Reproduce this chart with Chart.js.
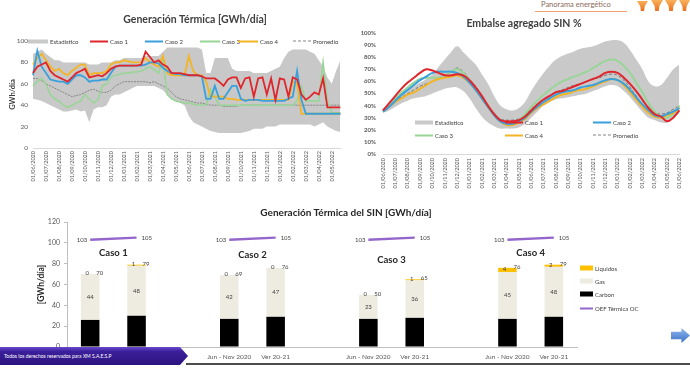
<!DOCTYPE html>
<html lang="es">
<head>
<meta charset="utf-8">
<title>Generación Térmica y Embalse SIN</title>
<script src="https://cdn.jsdelivr.net/npm/chart.js@4.4.1/dist/chart.umd.min.js"></script>
<style>
  html, body { margin:0; padding:0; background:#fff; }
  body { position:relative; width:690px; height:370px; overflow:hidden; font-family:Lato, "Open Sans", sans-serif; color:#404040; }
  canvas { position:absolute; }
  .t { position:absolute; white-space:nowrap; transform:translate(-50%,-50%); font-weight:bold; z-index:2; }
  .lg { position:absolute; display:flex; align-items:center; font-size:6px; line-height:7px; white-space:nowrap; transform:translateY(-50%); color:#404040; z-index:2; }
  .lg span { display:inline-block; margin-right:2px; }
  .banner { position:absolute; left:0; top:347px; width:188px; height:18px; z-index:3;
    background:linear-gradient(#6a4ad0 0, #3b1f9a 25%, #2c137f 100%);
    clip-path:polygon(0 0, 180px 0, 188px 50%, 180px 100%, 0 100%);
    color:#fff; font-size:5px; line-height:18px; padding-left:4px; box-sizing:border-box; }
</style>
</head>
<body>

<!-- encabezado -->
<div style="position:absolute;left:541px;top:0;font-size:7.5px;color:#8a6a58;">Panorama energético</div>
<div style="position:absolute;left:535px;top:11px;width:92px;height:1px;background:#f2a36e;"></div>
<div id="logo" style="position:absolute;left:637px;top:0;width:53px;height:11px;"></div>

<div class="t" style="left:195px;top:19px;font-size:10.5px;">Generación Térmica [GWh/día]</div>
<div class="t" style="left:524px;top:23px;font-size:10.5px;">Embalse agregado SIN %</div>
<div class="t" style="left:346px;top:212px;font-size:10px;color:#262626;">Generación Térmica del SIN [GWh/día]</div>

<canvas id="termica" width="350" height="195" style="left:0;top:0"></canvas>
<canvas id="embalse" width="345" height="200" style="left:345px;top:0"></canvas>
<canvas id="sin" width="690" height="170" style="left:0;top:200px"></canvas>

<div class="banner">Todos los derechos reservados para XM S.A.E.S.P</div>
<div style="position:absolute;left:186px;top:363px;width:504px;height:2px;background:#4d4d4d;"></div>
<div style="position:absolute;left:671px;top:328px;width:19px;height:15px;background:linear-gradient(#8fb6ee,#3f72c8);clip-path:polygon(0 25%,55% 25%,55% 0,100% 50%,55% 100%,55% 75%,0 75%);"></div>

<script>
// ---------- Generación térmica diaria (GWh/día), un punto cada 10 días ----------
const MESES_TERMICA = ['01/06/2020','01/07/2020','01/08/2020','01/09/2020','01/10/2020','01/11/2020',
  '01/12/2020','01/01/2021','01/02/2021','01/03/2021','01/04/2021','01/05/2021','01/06/2021',
  '01/07/2021','01/08/2021','01/09/2021','01/10/2021','01/11/2021','01/12/2021','01/01/2022',
  '01/02/2022','01/03/2022','01/04/2022','01/05/2022'];

const termEstMax = [88,90,92,88,85,82,82,80,80,80,80,80, 80,78,78,78,80,80,80,82,82,84,84,84,
  84,84,86,86,86,86,90,94,94,94,94,94, 94,94,94,92,70,70,84,84,84,84,74,72,
  72,72,72,70,70,70,70,72,74,76,84,90, 92,92,92,92,90,88,82,76,66,60,72,82];
const termEstMin = [46,45,44,42,40,38,36,34,34,35,36,34, 35,24,36,38,38,40,48,50,50,52,54,56,
  58,58,58,58,58,56,54,50,46,44,42,40, 30,24,22,20,18,16,15,14,14,14,14,14,
  14,15,16,18,18,18,20,20,20,22,22,22, 22,22,22,22,22,20,22,24,20,18,16,15];
const termCaso1 = [70,76,78,80,72,68,66,64,62,66,70,72, 74,66,67,68,67,70,74,76,77,77,77,77,
  77,78,90,85,80,82,78,76,70,70,70,69, 68,68,68,67,65,65,65,62,58,64,66,66,
  56,65,66,48,65,66,50,65,45,65,64,48, 66,64,50,45,48,52,50,65,38,38,38,38];
const termCaso2 = [68,91,76,70,64,63,62,62,60,64,68,68, 66,62,63,63,64,64,70,76,77,77,77,77,
  77,77,78,80,80,79,75,72,70,69,69,68, 68,68,68,67,46,46,58,46,46,52,58,58,
  46,44,45,45,45,44,44,44,44,44,44,46, 48,72,45,32,32,32,32,32,32,32,32,32];
const termCaso3 = [58,62,65,60,50,46,44,40,38,40,42,44, 50,46,42,45,58,60,66,68,69,70,70,71,
  71,72,74,76,73,70,82,50,46,44,43,42, 42,41,40,40,40,55,48,40,40,40,40,40,
  40,40,40,40,40,40,40,40,40,40,40,40, 40,44,58,44,44,44,44,80,44,33,33,33];
const termCaso4 = [78,84,88,82,76,72,74,70,68,72,75,78, 78,68,70,70,70,72,78,80,80,82,81,80,
  80,80,84,80,78,76,86,70,68,68,68,68, 86,72,68,68,62,48,48,48,48,46,46,45,
  45,45,45,45,45,45,45,45,45,45,45,45, 62,60,32,32,32,32,32,32,32,32,32,32];
const termPromedio = [65,65,63,60,58,56,54,52,50,48,49,50, 52,54,55,53,52,52,54,58,60,62,62,62,
  62,62,62,61,62,60,58,56,52,48,46,45, 44,43,42,42,41,40,40,40,39,39,39,39,
  40,40,40,40,40,40,40,40,40,40,40,40, 40,40,40,40,40,40,40,40,40,40,40,40];

// ---------- Embalse agregado SIN (%), dos puntos por mes ----------
const MESES_EMBALSE = ['01/06/2020','01/07/2020','01/08/2020','01/09/2020','01/10/2020','01/11/2020',
  '01/12/2020','01/01/2021','01/02/2021','01/03/2021','01/04/2021','01/05/2021','01/06/2021',
  '01/07/2021','01/08/2021','01/09/2021','01/10/2021','01/11/2021','01/12/2021','01/01/2022',
  '01/02/2022','01/03/2022','01/04/2022','01/05/2022','01/06/2022'];

const embEstMax = [37,42,47,50,53,56,59,62,66,72, 78,84,89,84,79,74,66,58,48,40,
  37,36,38,43,52,60,67,73,78,81, 83,85,87,88,89,91,93,94,94,92, 86,78,70,60,56,57,63,70,74];
const embEstMin = [34,36,39,42,44,46,47,48,50,52, 54,55,55,52,46,38,31,26,23,21,
  21,21,22,25,30,35,40,43,45,46, 47,48,49,50,52,54,56,57,56,52, 47,41,35,30,28,26,26,30,34];
const embCaso1 = [36,42,48,54,59,63,67,70,69,67, 65,65,66,65,61,55,48,40,33,28,
  27,27,28,31,36,41,45,48,51,52, 54,56,58,60,62,64,67,68,67,63, 58,52,45,38,33,31,27,30,36];
const embCaso2 = [35,39,44,49,53,57,61,64,67,68, 68,68,67,64,59,53,46,39,32,27,
  25,25,27,30,35,39,43,46,49,51, 52,53,55,56,57,59,61,62,61,58, 53,47,41,36,32,31,33,35,38];
const embCaso3 = [36,41,46,51,55,59,62,63,63,63, 64,68,70,67,61,54,47,40,33,28,
  25,26,28,33,39,44,49,53,57,60, 62,64,66,68,71,74,77,78,77,73, 67,59,51,42,35,31,30,33,40];
const embCaso4 = [35,39,43,46,49,51,54,57,60,62, 63,64,65,63,59,53,46,39,32,27,
  24,24,26,29,34,38,41,44,47,49, 50,52,53,54,56,58,60,62,61,57, 51,45,39,34,31,30,32,34,38];
const embPromedio = [35,40,44,47,50,53,56,58,60,63, 65,68,71,68,62,56,48,40,34,29,
  28,28,29,32,37,41,45,48,51,53, 55,57,58,60,62,63,65,66,65,61, 55,48,41,36,34,33,34,37,40];

// ---------- Generación térmica del SIN por caso (GWh/día) ----------
const CASOS = ['Caso 1','Caso 2','Caso 3','Caso 4'];
const PERIODOS = ['Jun - Nov 2020','Ver 20-21','','Jun - Nov 2020','Ver 20-21','',
  'Jun - Nov 2020','Ver 20-21','','Jun - Nov 2020','Ver 20-21'];
const carbon   = [26, 30, null, 27, 29, null, 27, 28, null, 27, 29];
const gas      = [44, 48, null, 42, 47, null, 23, 36, null, 45, 48];
const liquidos = [ 0,  1, null,  0,  0, null,  0,  1, null,  4,  2];
const oefTermica = [103, 105, null, 103, 105, null, 103, 105, null, 103, 105];

const RED = '#e0262d', BLUE = '#38a0dc', GREEN = '#98d596', GOLD = '#f3b426';
const BAND = '#c9c9c9', PROM = '#858585', PURPLE = '#9466cc';

Chart.defaults.font.family = 'Lato, "Open Sans", sans-serif';
Chart.defaults.color = '#595959';
Chart.defaults.animation = false;

// leyendas en HTML sobre los gráficos
function legend(items) {
  items.forEach(([x, y, text, swatch]) => {
    const d = document.createElement('div');
    d.className = 'lg';
    d.style.left = x + 'px'; d.style.top = y + 'px';
    d.innerHTML = `<span style="${swatch}"></span>${text}`;
    document.body.appendChild(d);
  });
}
const sw = (w, css) => `width:${w}px;${css}`;

legend([
  [28, 41, 'Estadístico', sw(20, 'border-top:4px solid ' + BAND)],
  [90, 41, 'Caso 1', sw(18, 'border-top:2px solid ' + RED)],
  [145, 41, 'Caso 2', sw(18, 'border-top:2px solid ' + BLUE)],
  [200, 41, 'Caso 3', sw(20, 'border-top:2px solid ' + GREEN)],
  [238, 41, 'Caso 4', sw(20, 'border-top:2px solid ' + GOLD)],
  [293, 41, 'Promedio', sw(18, 'border-top:1px dashed ' + PROM)],
  [415, 122, 'Estadístico', sw(18, 'border-top:4px solid ' + BAND)],
  [505, 122, 'Caso 1', sw(18, 'border-top:2px solid ' + RED)],
  [593, 122, 'Caso 2', sw(18, 'border-top:2px solid ' + BLUE)],
  [415, 135, 'Caso 3', sw(18, 'border-top:2px solid ' + GREEN)],
  [505, 135, 'Caso 4', sw(18, 'border-top:2px solid ' + GOLD)],
  [593, 135, 'Promedio', sw(18, 'border-top:1px dashed ' + PROM)],
  [580, 268, 'Liquidos', sw(13, 'height:5px;background:#ffc000')],
  [580, 281, 'Gas', sw(13, 'height:5px;background:#eeece1')],
  [580, 294, 'Carbon', sw(13, 'height:5px;background:#000')],
  [580, 308, 'OEF Térmica OC', sw(13, 'border-top:2px solid ' + PURPLE)],
]);

// logo naranja del encabezado
['0,1,11,10', '14,0,12,11', '28,0,12,11', '42,0,11,11'].forEach((r) => {
  const [l, t, w, h] = r.split(',');
  const s = document.createElement('div');
  s.style.cssText = `position:absolute;left:${l}px;top:${t}px;width:${w}px;height:${h}px;` +
    'background:linear-gradient(#f9b15c,#e8701c);clip-path:polygon(0 0,100% 0,70% 55%,65% 100%,35% 100%,30% 55%);';
  document.getElementById('logo').appendChild(s);
});

const line = (label, data, color, width, extra) => Object.assign({
  label, data, borderColor: color, borderWidth: width, pointRadius: 0, fill: false,
}, extra || {});

const monthTick = function (v) {
  const l = this.getLabelForValue(v);
  return l.startsWith('01/') ? l : '';
};

// ---- Generación Térmica [GWh/día]
const diasTermica = MESES_TERMICA.flatMap((m) => [m, '11' + m.slice(2), '21' + m.slice(2)]);
new Chart(document.getElementById('termica'), {
  type: 'line',
  data: {
    labels: diasTermica,
    datasets: [
      line('Caso 1', termCaso1, RED, 1.8),
      line('Caso 2', termCaso2, BLUE, 1.8),
      line('Caso 4', termCaso4, GOLD, 1.8),
      line('Caso 3', termCaso3, GREEN, 1.6),
      line('Promedio', termPromedio, PROM, 1, { borderDash: [2, 1] }),
      line('Estadístico', termEstMax, BAND, 0, { backgroundColor: '#c8c8c8', fill: '+1' }),
      line('Estadístico mín', termEstMin, BAND, 0),
    ],
  },
  options: {
    responsive: false,
    layout: { padding: { top: 41, right: 9, left: 4, bottom: 0 } },
    plugins: { legend: { display: false }, tooltip: { enabled: false } },
    scales: {
      x: {
        grid: { display: false, drawTicks: false }, border: { color: '#d9d9d9' },
        ticks: { autoSkip: false, minRotation: 90, maxRotation: 90, padding: 3, font: { size: 5.5 }, callback: monthTick },
        afterFit: (s) => { s.height = 47; },
      },
      y: {
        min: 0, max: 100, grid: { display: false, drawTicks: false }, border: { display: false },
        ticks: { stepSize: 20, padding: 5, font: { size: 6.5 } },
        title: { display: true, text: 'GWh/día', color: '#404040', font: { size: 7.5, weight: 'bold' }, padding: { top: 4, bottom: 0 } },
        afterFit: (s) => { s.width = 29; },
      },
    },
  },
});

// ---- Embalse agregado SIN %
const diasEmbalse = MESES_EMBALSE.flatMap((m, k) => k < MESES_EMBALSE.length - 1 ? [m, '15' + m.slice(2)] : [m]);
new Chart(document.getElementById('embalse'), {
  type: 'line',
  data: {
    labels: diasEmbalse,
    datasets: [
      line('Caso 1', embCaso1, RED, 2, { tension: 0.4 }),
      line('Caso 2', embCaso2, BLUE, 2, { tension: 0.4 }),
      line('Caso 4', embCaso4, GOLD, 2, { tension: 0.4 }),
      line('Caso 3', embCaso3, GREEN, 2, { tension: 0.4 }),
      line('Promedio', embPromedio, '#6f6f6f', 1, { tension: 0.4, borderDash: [3, 2] }),
      line('Estadístico', embEstMax, BAND, 0, { tension: 0.4, backgroundColor: BAND, fill: '+1' }),
      line('Estadístico mín', embEstMin, BAND, 0, { tension: 0.4 }),
    ],
  },
  options: {
    responsive: false,
    layout: { padding: { top: 33, right: 4, left: 0, bottom: 0 } },
    plugins: { legend: { display: false }, tooltip: { enabled: false } },
    scales: {
      x: {
        grid: { display: false, drawTicks: false }, border: { color: '#d9d9d9' },
        ticks: { autoSkip: false, minRotation: 90, maxRotation: 90, padding: 4, font: { size: 5.5 }, callback: monthTick },
        afterFit: (s) => { s.height = 46; },
      },
      y: {
        min: 0, max: 100, grid: { display: false, drawTicks: false }, border: { display: false },
        ticks: { stepSize: 10, padding: 7, font: { size: 6, weight: 'bold' }, callback: (v) => v + '%' },
        afterFit: (s) => { s.width = 38; },
      },
    },
  },
});

// rótulos de valores, OEF y nombre de cada caso sobre las barras
const etiquetasSin = {
  id: 'etiquetasSin',
  afterDatasetsDraw(chart) {
    const { ctx, scales: { x, y } } = chart;
    ctx.save();
    ctx.fillStyle = '#404040';
    ctx.textBaseline = 'middle';
    ctx.font = '6px Lato, sans-serif';
    PERIODOS.forEach((p, i) => {
      if (gas[i] == null) return;
      const cx = x.getPixelForValue(i);
      const total = carbon[i] + gas[i] + liquidos[i];
      ctx.textAlign = 'center';
      ctx.fillText(String(gas[i]), cx, y.getPixelForValue(carbon[i] + gas[i] / 2));
      ctx.fillText(String(liquidos[i]), cx - 3, y.getPixelForValue(total - liquidos[i] / 2) - 1);
      ctx.textAlign = 'left';
      ctx.fillText(String(total), cx + 6, y.getPixelForValue(total) - 1);
    });
    // valores de la OEF en los extremos de cada tramo
    oefTermica.forEach((v, i) => {
      if (v == null) return;
      const first = oefTermica[i - 1] == null;
      ctx.textAlign = first ? 'right' : 'left';
      ctx.fillText(String(v), x.getPixelForValue(i) + (first ? -3 : 5), y.getPixelForValue(v));
    });
    // nombre de cada caso
    const alturas = [90.5, 88, 84, 90.5];
    ctx.font = 'bold 9.5px Lato, sans-serif';
    ctx.fillStyle = '#262626';
    ctx.textAlign = 'center';
    CASOS.forEach((c, k) => {
      const cx = (x.getPixelForValue(3 * k) + x.getPixelForValue(3 * k + 1)) / 2;
      ctx.fillText(c, cx, y.getPixelForValue(alturas[k]));
    });
    ctx.restore();
  },
};

// ---- Generación Térmica del SIN [GWh/día]
new Chart(document.getElementById('sin'), {
  type: 'bar',
  data: {
    labels: PERIODOS,
    datasets: [
      { type: 'line', label: 'OEF Térmica OC', data: oefTermica, borderColor: PURPLE, borderWidth: 2.5, pointRadius: 0, spanGaps: false, order: 0 },
      { label: 'Carbon', data: carbon, backgroundColor: '#000000', stack: 'sin', order: 1 },
      { label: 'Gas', data: gas, backgroundColor: '#eeece1', stack: 'sin', order: 1 },
      { label: 'Liquidos', data: liquidos, backgroundColor: '#ffc000', stack: 'sin', order: 1 },
    ],
  },
  options: {
    responsive: false,
    barPercentage: 0.4,
    categoryPercentage: 1,
    layout: { padding: { top: 22, right: 113, left: 0, bottom: 0 } },
    plugins: { legend: { display: false }, tooltip: { enabled: false } },
    scales: {
      x: {
        stacked: true, grid: { display: false, drawTicks: false }, border: { color: '#bfbfbf' },
        ticks: { autoSkip: false, maxRotation: 0, padding: 6, font: { size: 6.5 } },
        afterFit: (s) => { s.height = 23; },
      },
      y: {
        stacked: true, min: 0, max: 120,
        grid: { display: true, drawOnChartArea: false, tickLength: 3, color: '#bfbfbf' }, border: { color: '#bfbfbf' },
        ticks: { stepSize: 20, padding: 4, font: { size: 7 } },
        title: { display: true, text: '[GWh/día]', color: '#262626', font: { size: 8.5, weight: 'bold' }, padding: { top: 36, bottom: 0 } },
        afterFit: (s) => { s.width = 67; },
      },
    },
  },
  plugins: [etiquetasSin],
});
</script>
</body>
</html>
